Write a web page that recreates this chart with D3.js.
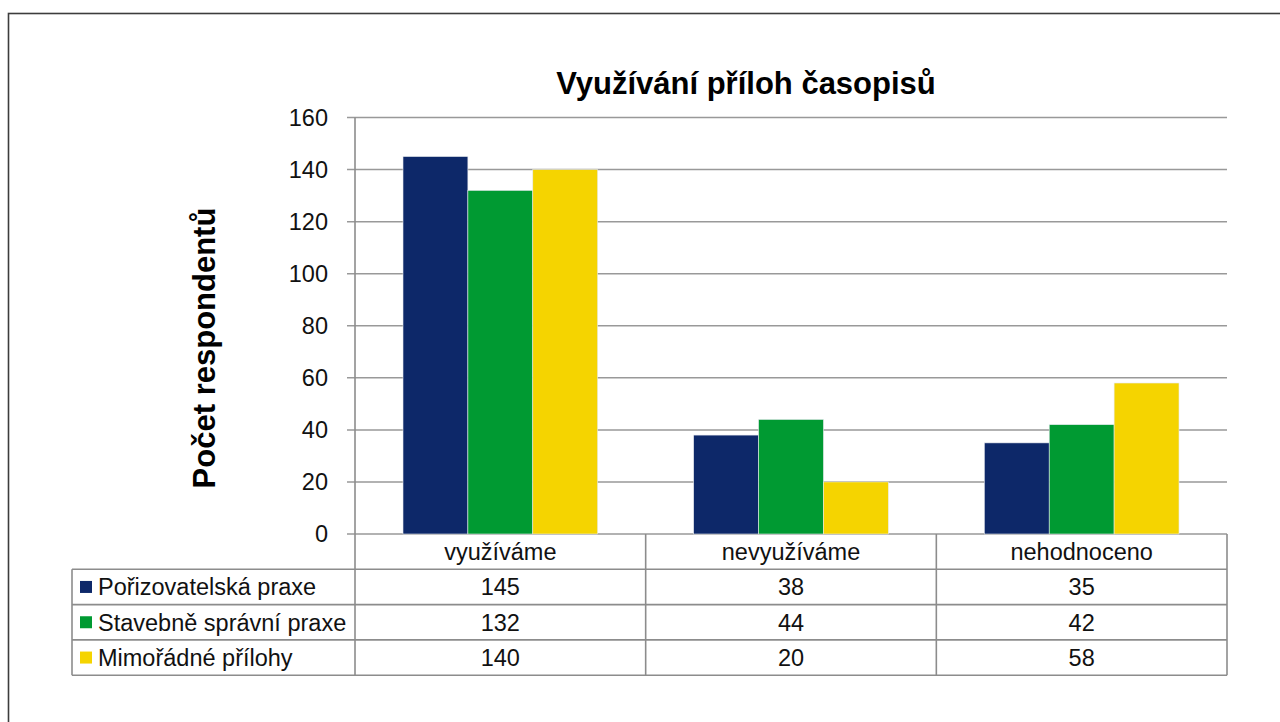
<!DOCTYPE html>
<html>
<head>
<meta charset="utf-8">
<script src="https://cdn.jsdelivr.net/npm/d3@7"></script>
<style>
  body { margin: 0; background: #fff; }
  svg { display: block; font-family: "Liberation Sans", Arial, sans-serif; }
</style>
</head>
<body>
<div id="chart"></div>
<script>
const categories = ["využíváme", "nevyužíváme", "nehodnoceno"];
const seriesNames = ["Pořizovatelská praxe", "Stavebně správní praxe", "Mimořádné přílohy"];
const porizovatelska = [145, 38, 35];
const stavebne = [132, 44, 42];
const mimoradne = [140, 20, 58];
const yTicks = [0, 20, 40, 60, 80, 100, 120, 140, 160];
const colors = ["#0d2869", "#009a32", "#f5d400"];

const seriesValues = [porizovatelska, stavebne, mimoradne];

const W = 1280, H = 722;
const plot = {left: 355, right: 1227, top: 117.5, bottom: 534};
const rowH = 35.3;
const legendLeft = 72;
const fs = 23.5;

const svg = d3.select("#chart").append("svg")
    .attr("width", W)
    .attr("height", H);

// outer frame (goes off the right and bottom edge)
svg.append("rect")
    .attr("x", 8.5).attr("y", 13.5)
    .attr("width", 1300).attr("height", 740)
    .attr("fill", "none")
    .attr("stroke", "#3d3d3d")
    .attr("stroke-width", 1.6);

const x0 = d3.scaleBand()
    .domain(categories)
    .range([plot.left, plot.right]);

const bw = x0.bandwidth();
const x1 = d3.scaleBand()
    .domain(d3.range(seriesNames.length))
    .range([48, bw - 48]);

const y = d3.scaleLinear()
    .domain([0, 160])
    .range([plot.bottom, plot.top]);

// gridlines + ticks
svg.append("g")
    .selectAll("line")
    .data(yTicks)
    .join("line")
    .attr("x1", plot.left - 8)
    .attr("x2", plot.right)
    .attr("y1", d => y(d))
    .attr("y2", d => y(d))
    .attr("stroke", "#999")
    .attr("stroke-width", 1.5);

svg.append("g")
    .selectAll("text")
    .data(yTicks)
    .join("text")
    .attr("x", plot.left - 27)
    .attr("y", d => y(d))
    .attr("dy", "0.36em")
    .attr("text-anchor", "end")
    .attr("font-size", fs)
    .attr("fill", "#111")
    .text(d => d);

// bars
const groups = svg.append("g")
    .selectAll("g")
    .data(categories)
    .join("g")
    .attr("transform", d => `translate(${x0(d)},0)`);

groups.selectAll("rect")
    .data((c, ci) => seriesValues.map((vals, si) => ({si, v: vals[ci]})))
    .join("rect")
    .attr("x", d => x1(d.si))
    .attr("width", x1.bandwidth())
    .attr("y", d => y(d.v))
    .attr("height", d => y(0) - y(d.v))
    .attr("fill", d => colors[d.si])
    .attr("stroke", "#e6e9ef")
    .attr("stroke-width", 0.6);

// y axis line + table lines
const tableBottom = plot.bottom + rowH * 4;
const lines = svg.append("g")
    .attr("stroke", "#8c8c8c")
    .attr("stroke-width", 1.6);

lines.append("line")
    .attr("x1", plot.left).attr("x2", plot.left)
    .attr("y1", plot.top).attr("y2", tableBottom);

x0.domain().forEach(c => {
    lines.append("line")
        .attr("x1", x0(c) + bw).attr("x2", x0(c) + bw)
        .attr("y1", plot.bottom).attr("y2", tableBottom);
});
lines.append("line")
    .attr("x1", legendLeft).attr("x2", legendLeft)
    .attr("y1", plot.bottom + rowH).attr("y2", tableBottom);

d3.range(1, 5).forEach(i => {
    lines.append("line")
        .attr("x1", legendLeft)
        .attr("x2", plot.right)
        .attr("y1", plot.bottom + rowH * i)
        .attr("y2", plot.bottom + rowH * i);
});

// header row: category labels
svg.append("g")
    .selectAll("text")
    .data(categories)
    .join("text")
    .attr("x", d => x0(d) + bw / 2)
    .attr("y", plot.bottom + rowH / 2)
    .attr("dy", "0.36em")
    .attr("text-anchor", "middle")
    .attr("font-size", fs)
    .attr("fill", "#111")
    .text(d => d);

// table rows
seriesNames.forEach((name, si) => {
    const rowMid = plot.bottom + rowH * (si + 1) + rowH / 2;
    svg.append("rect")
        .attr("x", 80).attr("y", rowMid - 6)
        .attr("width", 12).attr("height", 12)
        .attr("fill", colors[si]);
    svg.append("text")
        .attr("x", 98)
        .attr("y", rowMid)
        .attr("dy", "0.36em")
        .attr("font-size", fs)
        .attr("fill", "#111")
        .text(name);
    svg.append("g")
        .selectAll("text")
        .data(seriesValues[si])
        .join("text")
        .attr("x", (d, ci) => x0(categories[ci]) + bw / 2)
        .attr("y", rowMid)
        .attr("dy", "0.36em")
        .attr("text-anchor", "middle")
        .attr("font-size", fs)
        .attr("fill", "#111")
        .text(d => d);
});

// title
svg.append("text")
    .attr("x", 746)
    .attr("y", 94)
    .attr("text-anchor", "middle")
    .attr("font-size", 31)
    .attr("font-weight", "bold")
    .attr("fill", "#000")
    .text("Využívání příloh časopisů");

// y axis title
svg.append("text")
    .attr("transform", `translate(215,348) rotate(-90)`)
    .attr("text-anchor", "middle")
    .attr("font-size", 31)
    .attr("font-weight", "bold")
    .attr("fill", "#000")
    .text("Počet respondentů");
</script>
</body>
</html>
